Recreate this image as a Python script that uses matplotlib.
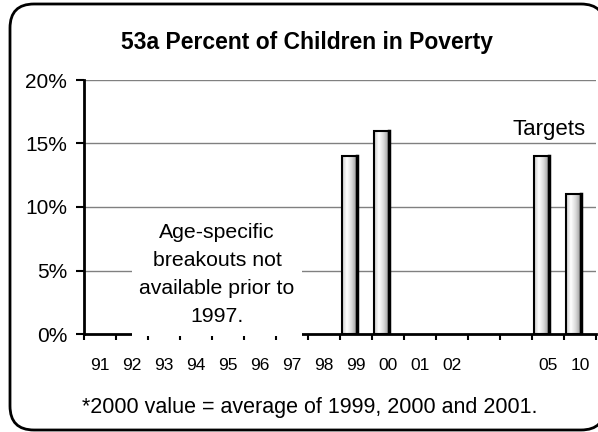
import matplotlib
matplotlib.use('Agg')
import matplotlib.pyplot as plt
from matplotlib.patches import FancyBboxPatch, Rectangle
from matplotlib.colors import LinearSegmentedColormap
import numpy as np

plt.rcParams['font.family'] = ['Liberation Sans', 'DejaVu Sans']

# data
years = ['91', '92', '93', '94', '95', '96', '97', '98', '99', '00',
         '01', '02', '', '', '05', '10']
values = [None, None, None, None, None, None, None, None, 14, 16,
          None, None, None, None, 14, 11]
yticks = [0, 5, 10, 15, 20]
ytick_labels = ['0%', '5%', '10%', '15%', '20%']

title = '53a Percent of Children in Poverty'
note = 'Age-specific\nbreakouts not\navailable prior to\n1997.'
footnote = '*2000 value = average of 1999, 2000 and 2001.'

W, H = 598, 432
fig = plt.figure(figsize=(W / 100, H / 100), dpi=100)

# background layer in pixel units (rounded frame, title, footnote)
bg = fig.add_axes([0, 0, 1, 1])
bg.set_xlim(0, W)
bg.set_ylim(H, 0)
bg.axis('off')
frame = FancyBboxPatch((10, 4), 595, 426, boxstyle='round,pad=0,rounding_size=24',
                       facecolor='white', edgecolor='black', linewidth=2, clip_on=False)
bg.add_patch(frame)
bg.text(307, 43, title, fontsize=16.5, fontweight='bold', ha='center', va='center')
bg.text(310, 408, footnote, fontsize=15.5, ha='center', va='center')

# chart
ax = fig.add_axes([84 / W, 1 - 334 / H, 512 / W, 254 / H])
ax.set_facecolor('none')
n = len(years)

for y in yticks[1:]:
    ax.axhline(y, color='#808080', linewidth=1, zorder=1)

# bars with a cylinder-like grey gradient
cmap = LinearSegmentedColormap.from_list('cyl', [(0, '#c8c8c8'), (0.3, '#ffffff'),
                                                 (0.6, '#dcdcdc'), (1, '#8c8c8c')])
grad = np.linspace(0, 1, 64).reshape(1, -1)
off, bw = 0.06, 0.47
for i, v in enumerate(values):
    if v is None:
        continue
    x0 = i - 0.5 + off
    ax.imshow(grad, extent=[x0, x0 + bw, 0, v], aspect='auto', cmap=cmap, zorder=2)
    ax.add_patch(Rectangle((x0, 0), bw, v, facecolor='none', edgecolor='black',
                           linewidth=1.5, zorder=3))
    ax.plot([x0 + bw, x0 + bw], [0, v], color='black', linewidth=2.5, zorder=3)
ax.set_xlim(-0.5, n - 0.5)
ax.set_ylim(0, 20)

# white box with note covering grid and axis
ax.add_patch(Rectangle((1.0, -0.12), 5.31, 9.2, facecolor='white', edgecolor='none',
                       zorder=4, clip_on=False))
ax.text(3.66, 4.7, note, fontsize=15.3, ha='center', va='center',
        multialignment='center', linespacing=1.6, zorder=5)
ax.text(14.03, 16.1, 'Targets', fontsize=16, ha='center', va='center', zorder=5)

for s in ['top', 'right']:
    ax.spines[s].set_visible(False)
ax.spines['left'].set_linewidth(2)
ax.spines['bottom'].set_linewidth(2)

ax.set_yticks(yticks)
ax.set_yticklabels(ytick_labels, fontsize=15)
ax.tick_params(axis='y', length=6, width=1.5, pad=6)

ax.set_xticks(np.arange(-0.5, n, 1.0))
ax.set_xticklabels([])
ax.tick_params(axis='x', which='major', length=4.5, width=1.5, direction='out')
ax.set_xticks(np.arange(n), minor=True)
ax.set_xticklabels(years, minor=True, fontsize=12.5)
ax.tick_params(axis='x', which='minor', length=0, pad=17.5)

fig.savefig('out.png', dpi=100)
